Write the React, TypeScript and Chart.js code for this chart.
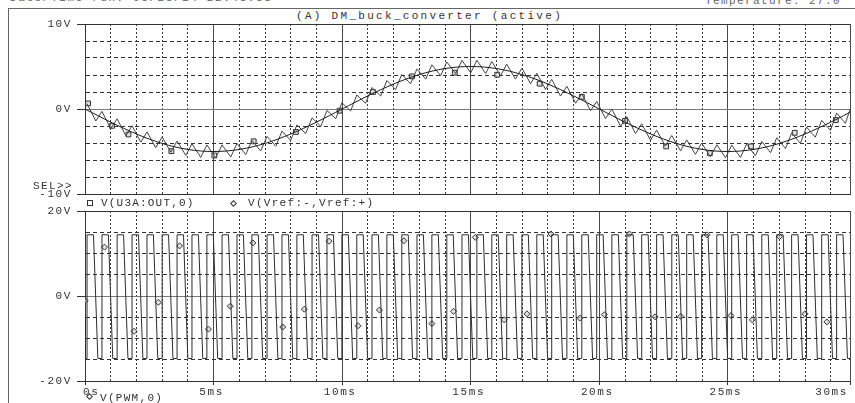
import React, { useEffect, useRef } from "react";
import { Chart, registerables } from "chart.js";
Chart.register(...registerables);

// ---------- axes ----------
const X_MAX = 29.75;
const xTickValues = [0, 1, 2, 3, 4, 5, 6, 7, 8, 9, 10, 11, 12, 13, 14, 15, 16, 17, 18, 19, 20, 21, 22, 23, 24, 25, 26, 27, 28, 29, 29.75];
const xTickLabels: Record<string, string> = { "0": "0s", "5": "5ms", "10": "10ms", "15": "15ms", "20": "20ms", "25": "25ms", "29.75": "30ms" };
const yTopTickValues = [-10, -8, -6, -4, -2, 0, 2, 4, 6, 8, 10];
const yTopLabels: Record<string, string> = { "10": "10V", "0": "0V", "-10": "-10V" };
const yBotTickValues = [-20, -15, -10, -5, 0, 5, 10, 15, 20];
const yBotLabels: Record<string, string> = { "20": "20V", "0": "0V", "-20": "-20V" };

// ---------- V(Vref:-,Vref:+) (smooth reference), ms / V ----------
const vrefT = [0, 0.5, 1, 1.5, 2, 2.5, 3, 3.5, 4, 4.5, 5, 5.5, 6, 6.5, 7, 7.5, 8, 8.5, 9, 9.5, 10, 10.5, 11, 11.5, 12, 12.5, 13, 13.5, 14, 14.5, 15, 15.5, 16, 16.5, 17, 17.5, 18, 18.5, 19, 19.5, 20, 20.5, 21, 21.5, 22, 22.5, 23, 23.5, 24, 24.5, 25, 25.5, 26, 26.5, 27, 27.5, 28, 28.5, 29, 29.5, 30];
const vrefV = [0, -0.78, -1.55, -2.27, -2.94, -3.54, -4.05, -4.46, -4.76, -4.94, -5, -4.94, -4.76, -4.46, -4.05, -3.54, -2.94, -2.27, -1.55, -0.78, 0, 0.78, 1.55, 2.27, 2.94, 3.54, 4.05, 4.46, 4.76, 4.94, 5, 4.94, 4.76, 4.46, 4.05, 3.54, 2.94, 2.27, 1.55, 0.78, 0, -0.78, -1.55, -2.27, -2.94, -3.54, -4.05, -4.46, -4.76, -4.94, -5, -4.94, -4.76, -4.46, -4.05, -3.54, -2.94, -2.27, -1.55, -0.78, 0];

// ---------- PWM edges (ms) ----------
const pwmRise = [0.08, 0.66, 1.25, 1.83, 2.41, 3.00, 3.58, 4.16, 4.74, 5.33, 5.91, 6.49, 7.08, 7.66, 8.24, 8.83, 9.41, 9.99, 10.57, 11.16, 11.74, 12.32, 12.91, 13.49, 14.07, 14.66, 15.24, 15.82, 16.40, 16.99, 17.57, 18.15, 18.74, 19.32, 19.90, 20.49, 21.07, 21.65, 22.23, 22.82, 23.40, 23.98, 24.57, 25.15, 25.73, 26.32, 26.90, 27.48, 28.06, 28.65, 29.23, 29.81];
const pwmFallStart = [0.33, 0.91, 1.50, 2.08, 2.66, 3.25, 3.83, 4.41, 4.99, 5.58, 6.16, 6.74, 7.33, 7.91, 8.49, 9.08, 9.66, 10.24, 10.82, 11.41, 11.99, 12.57, 13.16, 13.74, 14.32, 14.91, 15.49, 16.07, 16.65, 17.24, 17.82, 18.40, 18.99, 19.57, 20.15, 20.74, 21.32, 21.90, 22.48, 23.07, 23.65, 24.23, 24.82, 25.40, 25.98, 26.57, 27.15, 27.73, 28.31, 28.90, 29.48, 30.06];
const pwmFallEnd = [0.50, 1.08, 1.67, 2.25, 2.83, 3.42, 4.00, 4.58, 5.16, 5.75, 6.33, 6.91, 7.50, 8.08, 8.66, 9.25, 9.83, 10.41, 10.99, 11.58, 12.16, 12.74, 13.33, 13.91, 14.49, 15.08, 15.66, 16.24, 16.82, 17.41, 17.99, 18.57, 19.16, 19.74, 20.32, 20.91, 21.49, 22.07, 22.65, 23.24, 23.82, 24.40, 24.99, 25.57, 26.15, 26.74, 27.32, 27.90, 28.48, 29.07, 29.65, 30.23];
const pwmHigh = 14.4;
const pwmLow = -14.7;
const pwmStartT = [0, 0.02];
const pwmStartV = [-5.5, -14.7];

// ---------- V(U3A:OUT,0) ripple vertices ----------
const outTroughT = [0.42, 1.00, 1.59, 2.17, 2.75, 3.34, 3.92, 4.50, 5.08, 5.67, 6.25, 6.83, 7.42, 8.00, 8.58, 9.17, 9.75, 10.33, 10.91, 11.50, 12.08, 12.66, 13.25, 13.83, 14.41, 15.00, 15.58, 16.16, 16.74, 17.33, 17.91, 18.49, 19.08, 19.66, 20.24, 20.83, 21.41, 21.99, 22.57, 23.16, 23.74, 24.32, 24.91, 25.49, 26.07, 26.66, 27.24, 27.82, 28.40, 28.99, 29.57, 30.15];
const outPeak = [0.62, -0.28, -1.16, -1.97, -2.69, -3.29, -3.76, -4.08, -4.23, -4.22, -4.05, -3.71, -3.22, -2.61, -1.87, -1.05, -0.17, 0.74, 1.65, 2.53, 3.35, 4.08, 4.71, 5.20, 5.54, 5.72, 5.74, 5.58, 5.27, 4.81, 4.21, 3.49, 2.68, 1.81, 0.90, -0.01, -0.90, -1.73, -2.48, -3.12, -3.63, -4.00, -4.21, -4.25, -4.12, -3.83, -3.38, -2.81, -2.12, -1.34, -0.48, 0.45];
const outTrough = [-1.41, -2.30, -3.14, -3.90, -4.55, -5.08, -5.46, -5.69, -5.75, -5.64, -5.37, -4.94, -4.38, -3.69, -2.90, -2.05, -1.15, -0.23, 0.67, 1.52, 2.29, 2.96, 3.51, 3.92, 4.17, 4.25, 4.17, 3.92, 3.52, 2.97, 2.30, 1.53, 0.68, -0.21, -1.13, -2.03, -2.89, -3.67, -4.36, -4.92, -5.34, -5.62, -5.74, -5.70, -5.50, -5.14, -4.65, -4.04, -3.32, -2.52, -1.68, -0.52];

// ---------- trace markers ----------
const outMarkT = [0.12, 1.05, 1.69, 3.36, 5.03, 6.56, 8.2, 9.9, 11.2, 12.72, 14.38, 16.03, 17.68, 19.32, 21.0, 22.6, 24.3, 25.9, 27.6, 29.2];
const outMarkV = [0.66, -1.98, -3.0, -4.96, -5.47, -3.8, -2.7, -0.2, 2.0, 3.84, 4.27, 4.03, 2.98, 1.43, -1.4, -4.4, -5.2, -4.4, -2.8, -1.3];
const pwmMarkT = [0, 0.76, 1.91, 2.85, 3.68, 4.8, 5.65, 6.53, 7.69, 8.53, 9.49, 10.62, 11.45, 12.4, 13.49, 14.33, 15.18, 16.3, 17.19, 18.12, 19.24, 20.2, 21.17, 22.17, 23.17, 24.19, 25.12, 25.95, 27.01, 28.0, 28.85];
const pwmMarkV = [-1.1, 11.5, -8.3, -1.5, 11.8, -7.8, -2.4, 12.5, -7.3, -3.1, 12.9, -7.0, -3.3, 13.0, -6.5, -3.6, 13.8, -5.6, -4.2, 14.6, -5.2, -4.4, 14.6, -4.9, -4.8, 14.4, -4.6, -5.6, 14.0, -4.2, -6.1];

const FONT = "'Liberation Mono', 'DejaVu Sans Mono', monospace";
const INK = "#333";

const spacingPlugin = {
  id: "spacing",
  beforeDraw(chart: any) { chart.ctx.letterSpacing = "1.6px"; },
  afterDraw(chart: any) { chart.ctx.letterSpacing = "0px"; },
};

const isMajorX = (v: number) => Math.abs(v % 5) < 1e-9 || v > 29.5;

function zeroPad(s: any) {
  s.paddingTop = 0;
  s.paddingBottom = 0;
  s.paddingLeft = 0;
  s.paddingRight = 0;
}

function xScale(showLabels: boolean) {
  return {
    type: "linear",
    min: 0,
    max: X_MAX,
    afterBuildTicks: (s: any) => { s.ticks = xTickValues.map((v) => ({ value: v })); },
    afterFit: (s: any) => { s.height = showLabels ? 22 : 0; zeroPad(s); },
    ticks: {
      display: showLabels,
      autoSkip: false,
      maxRotation: 0,
      minRotation: 0,
      align: "inner",
      padding: 0,
      labelOffset: -2,
      color: INK,
      font: { family: FONT, size: 11 },
      callback: (v: any) => xTickLabels[String(v)] ?? "",
    },
    grid: {
      color: (c: any) => (c.tick && isMajorX(c.tick.value) ? "#4a4a4a" : "#3a3a3a"),
      lineWidth: 1,
      drawTicks: showLabels,
      tickLength: 4,
      tickColor: (c: any) => (c.tick && isMajorX(c.tick.value) ? "#333" : "rgba(0,0,0,0)"),
    },
    border: {
      display: true,
      color: "#333",
      dash: (c: any) => (c.tick && !isMajorX(c.tick.value) ? [2, 2] : []),
    },
  };
}

function yScale(min: number, max: number, values: number[], labels: Record<string, string>, major: number) {
  return {
    type: "linear",
    min,
    max,
    afterBuildTicks: (s: any) => { s.ticks = values.map((v) => ({ value: v })); },
    afterFit: (s: any) => { s.width = 85; zeroPad(s); },
    ticks: {
      autoSkip: false,
      padding: 5,
      color: INK,
      font: { family: FONT, size: 11 },
      callback: (v: any) => labels[String(v)] ?? "",
    },
    grid: {
      color: (c: any) => (c.tick && c.tick.value === 0 ? "#7a7a7a" : "#333"),
      lineWidth: 1,
      tickLength: 8,
      tickColor: (c: any) => (c.tick && labels[String(c.tick.value)] ? "#333" : "rgba(0,0,0,0)"),
    },
    border: {
      display: true,
      color: "#333",
      dash: (c: any) => (c.tick && Math.abs(c.tick.value % major) > 1e-9 ? [4, 3] : []),
    },
  };
}

const baseOptions = (scales: any, padding: any) => ({
  responsive: false,
  animation: false,
  devicePixelRatio: 1,
  events: [],
  layout: { padding },
  plugins: { legend: { display: false }, tooltip: { enabled: false } },
  elements: { point: { radius: 0 }, line: { borderWidth: 1 } },
  scales,
});

export default function App() {
  const topRef = useRef<HTMLCanvasElement | null>(null);
  const botRef = useRef<HTMLCanvasElement | null>(null);

  useEffect(() => {
    const ripple: { x: number; y: number }[] = [];
    for (let i = 0; i < pwmRise.length; i++) {
      ripple.push({ x: pwmRise[i], y: outPeak[i] });
      ripple.push({ x: outTroughT[i], y: outTrough[i] });
    }
    const vref = vrefT.map((t, i) => ({ x: t, y: vrefV[i] }));
    const outMarks = outMarkT.map((t, i) => ({ x: t, y: outMarkV[i] }));

    const pwm: { x: number; y: number }[] = pwmStartT.map((t, i) => ({ x: t, y: pwmStartV[i] }));
    for (let i = 0; i < pwmRise.length; i++) {
      pwm.push({ x: pwmRise[i], y: pwmLow });
      pwm.push({ x: pwmRise[i], y: pwmHigh });
      pwm.push({ x: pwmFallStart[i], y: pwmHigh });
      pwm.push({ x: pwmFallEnd[i], y: pwmLow });
    }
    const pwmMarks = pwmMarkT.map((t, i) => ({ x: t, y: pwmMarkV[i] }));

    const top = new Chart(topRef.current as HTMLCanvasElement, {
      type: "line",
      data: {
        datasets: [
          { label: "V(Vref:-,Vref:+)", data: vref, borderColor: "#1c1c1c", tension: 0.3 },
          { label: "V(U3A:OUT,0)", data: ripple, borderColor: "#444", tension: 0 },
          {
            label: "marks", data: outMarks, showLine: false, pointStyle: "rect", pointRadius: 3.4,
            pointBorderColor: "#333", pointBackgroundColor: "rgba(200,200,200,0.6)", pointBorderWidth: 1,
          },
        ],
      } as any,
      options: baseOptions(
        { x: xScale(false), y: yScale(-10, 10, yTopTickValues, yTopLabels, 10) },
        { top: 24, bottom: 6, left: 0, right: 0 }
      ) as any,
      plugins: [spacingPlugin],
    });

    const bot = new Chart(botRef.current as HTMLCanvasElement, {
      type: "line",
      data: {
        datasets: [
          { label: "V(PWM,0)", data: pwm, borderColor: "#2e2e2e", tension: 0 },
          {
            label: "marks", data: pwmMarks, showLine: false, pointStyle: "rectRot", pointRadius: 3,
            pointBorderColor: "#333", pointBackgroundColor: "rgba(200,200,200,0.6)", pointBorderWidth: 1,
          },
        ],
      } as any,
      options: baseOptions(
        { x: xScale(true), y: yScale(-20, 20, yBotTickValues, yBotLabels, 20) },
        { top: 6, bottom: 0, left: 0, right: 0 }
      ) as any,
      plugins: [spacingPlugin],
    });

    return () => { top.destroy(); bot.destroy(); };
  }, []);

  const txt = (left: number, top: number, s: string, spacing = 1.3, extra: any = {}) => (
    <div style={{ position: "absolute", left, top, fontFamily: FONT, fontSize: 11, lineHeight: "12px", letterSpacing: spacing, color: INK, whiteSpace: "pre", ...extra }}>{s}</div>
  );

  return (
    <div style={{ position: "fixed", left: 0, top: 0, width: 855, height: 403, overflow: "hidden", background: "#fff" }}>
      {txt(10, -8, "Date/Time run: 03/23/24 22:48:58", 1.6, { color: "#666" })}
      {txt(705, -5, "Temperature: 27.0", 1.4, { color: "#666" })}
      <div style={{ position: "absolute", left: 8, top: 8, width: 860, height: 420, borderLeft: "1px solid #666", borderTop: "1px solid #666" }} />
      {txt(296, 10, "(A) DM_buck_converter (active)", 2.3)}
      <canvas ref={topRef} width={855} height={200} style={{ position: "absolute", left: 0, top: 0 }} />
      <canvas ref={botRef} width={855} height={198} style={{ position: "absolute", left: 0, top: 205 }} />
      {txt(33, 180, "SEL>>", 1.4)}
      <div style={{ position: "absolute", left: 87, top: 200, width: 4, height: 4, border: "1px solid #333" }} />
      {txt(101, 197, "V(U3A:OUT,0)", 1.2)}
      <div style={{ position: "absolute", left: 231, top: 201, width: 3, height: 3, border: "1px solid #333", transform: "rotate(45deg)" }} />
      {txt(248, 197, "V(Vref:-,Vref:+)", 1.3)}
      <div style={{ position: "absolute", left: 87, top: 394, width: 3, height: 3, border: "1px solid #333", transform: "rotate(45deg)" }} />
      {txt(100, 392, "V(PWM,0)", 1.3)}
    </div>
  );
}
